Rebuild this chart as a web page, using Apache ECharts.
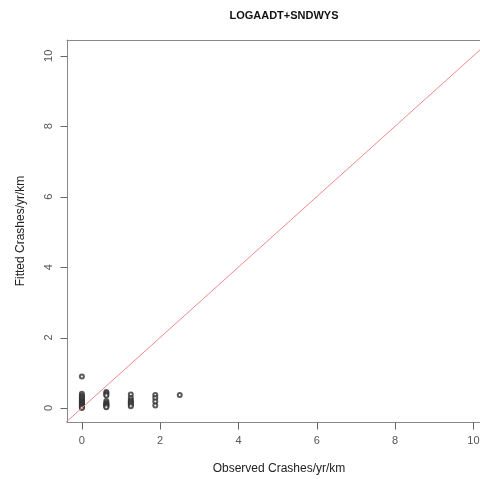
<!DOCTYPE html>
<html>
<head>
<meta charset="utf-8">
<script src="https://cdn.jsdelivr.net/npm/echarts@6/dist/echarts.min.js"></script>
<style>
  html, body { margin: 0; padding: 0; background: #fff; }
  #main { width: 480px; height: 479px; }
</style>
</head>
<body>
<div id="main"></div>
<script>
var observed = [
    0, 0, 0, 0, 0, 0, 0, 0, 0, 0, 0, 0, 0, 0, 0, 0, 0, 0,
    0.625, 0.625, 0.625, 0.625, 0.625, 0.625, 0.625, 0.625, 0.625, 0.625, 0.625, 0.625,
    1.25, 1.25, 1.25, 1.25, 1.25, 1.25, 1.25, 1.25,
    1.875, 1.875, 1.875, 1.875,
    2.5
];
var fitted = [
    0.89, 0.40, 0.35, 0.32, 0.28, 0.25, 0.22, 0.20, 0.18, 0.16, 0.14, 0.12, 0.10, 0.08, 0.06, 0.04, 0.02, 0.00,
    0.45, 0.42, 0.38, 0.35, 0.20, 0.15, 0.12, 0.10, 0.08, 0.06, 0.04, 0.02,
    0.38, 0.28, 0.22, 0.18, 0.15, 0.12, 0.08, 0.05,
    0.37, 0.28, 0.18, 0.07,
    0.37
];
var tickValues = [0, 2, 4, 6, 8, 10];

var xMin = -0.38, xMax = 10.45;
var yMin = -0.4, yMax = 10.45;

var points = observed.map(function (x, i) { return [x, fitted[i]]; });

var box = echarts.init(document.getElementById('main'));

var boxLine = { show: true, onZero: false, lineStyle: { color: '#888', width: 1 } };

option = {
    backgroundColor: '#fff',
    animation: false,
    title: {
        text: 'LOGAADT+SNDWYS',
        left: 279,
        top: 5,
        textAlign: 'center',
        textStyle: {
            fontFamily: 'Liberation Sans',
            fontSize: 11,
            fontWeight: 'bold',
            color: '#111'
        }
    },
    grid: {
        left: 67,
        top: 40,
        right: -11,
        bottom: 57,
        outerBoundsMode: 'none',
        containLabel: false
    },
    xAxis: [
        {
            type: 'value',
            min: xMin,
            max: xMax,
            name: 'Observed Crashes/yr/km',
            nameLocation: 'middle',
            nameGap: 41,
            nameTextStyle: { fontFamily: 'Liberation Sans', fontSize: 12, color: '#222' },
            axisLine: boxLine,
            splitLine: { show: false },
            axisTick: { show: false },
            axisLabel: {
                fontFamily: 'Liberation Sans', fontSize: 11, color: '#555', margin: 13,
                customValues: tickValues
            }
        },
        {
            type: 'value',
            position: 'top',
            min: xMin,
            max: xMax,
            axisLine: boxLine,
            axisTick: { show: false },
            axisLabel: { show: false },
            splitLine: { show: false }
        }
    ],
    yAxis: {
        type: 'value',
        min: yMin,
        max: yMax,
        name: 'Fitted Crashes/yr/km',
        nameLocation: 'middle',
        nameGap: 40,
        nameTextStyle: { fontFamily: 'Liberation Sans', fontSize: 12, color: '#222' },
        axisLine: boxLine,
        splitLine: { show: false },
        axisTick: { show: false },
        axisLabel: {
            fontFamily: 'Liberation Sans', fontSize: 11, color: '#555', margin: 13, rotate: 90,
            customValues: tickValues
        }
    },
    series: [
        {
            type: 'line',
            data: [[-1, -1], [12, 12]],
            symbol: 'none',
            clip: true,
            lineStyle: { color: '#f08a8a', width: 1 }
        },
        {
            type: 'scatter',
            data: points,
            symbol: 'emptyCircle',
            symbolSize: 4,
            itemStyle: { color: '#333', borderColor: '#333', borderWidth: 0.7 }
        }
    ]
};
box.setOption(option);

// R-style outward tick marks, placed with the chart's own axis scales
var tickLines = [];
tickValues.forEach(function (v) {
    var px = box.convertToPixel({ gridIndex: 0 }, [v, yMin]);
    var py = box.convertToPixel({ gridIndex: 0 }, [xMin, v]);
    var x = Math.round(px[0]) + 0.5, yb = Math.round(px[1]) + 0.5;
    var xl = Math.round(py[0]) + 0.5, y = Math.round(py[1]) + 0.5;
    tickLines.push({
        type: 'line', silent: true, z: 10,
        shape: { x1: x, y1: yb, x2: x, y2: yb + 7 },
        style: { stroke: '#666', lineWidth: 1 }
    });
    tickLines.push({
        type: 'line', silent: true, z: 10,
        shape: { x1: xl, y1: y, x2: xl - 7, y2: y },
        style: { stroke: '#666', lineWidth: 1 }
    });
});
box.setOption({ graphic: tickLines });
</script>
</body>
</html>
